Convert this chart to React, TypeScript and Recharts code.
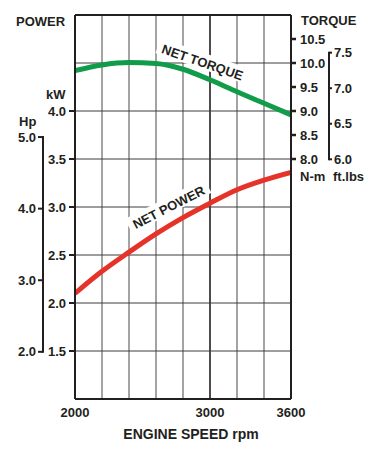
import React from 'react';
import { LineChart, Line, XAxis, YAxis, ReferenceLine } from 'recharts';

// ---- data ----
const rpm = [2000, 2200, 2400, 2600, 2800, 3000, 3200, 3400, 3600];
const netTorqueNm = [9.84, 9.96, 10.01, 9.99, 9.87, 9.65, 9.4, 9.16, 8.92];
const netPowerKw = [2.1, 2.33, 2.53, 2.72, 2.89, 3.04, 3.18, 3.28, 3.36];

const rpmTicks = [2000, 3000, 3600];
const rpmGrid = [2200, 2400, 2600, 2800, 3200, 3400];
const rpmMajor = [3000];
const kwTicks = [1.5, 2.0, 2.5, 3.0, 3.5, 4.0];
const kwGrid = [1.5, 2.0, 2.5, 3.0, 3.5, 4.0, 4.5];
const hpTicks = [2.0, 3.0, 4.0, 5.0];
const nmTicks = [8.0, 8.5, 9.0, 9.5, 10.0, 10.5];
const ftlbTicks = [6.0, 6.5, 7.0, 7.5];

const KW_DOMAIN = [1, 5];
const HP_DOMAIN = [1.341, 6.705];
const NM_DOMAIN = [3, 11];
const FTLB_DOMAIN = [2.627, 8.03];

const rows = rpm.map((r, i) => ({ rpm: r, torque: netTorqueNm[i], power: netPowerKw[i] }));

// ---- style ----
const W = 380;
const H = 470;
const TOP = 15;
const BOTTOM_H = 71;
const PLOT_H = H - TOP - BOTTOM_H;
const INK = '#231f20';
const GREEN = '#109c48';
const RED = '#e6332a';
const FONT = "'Liberation Sans', Arial, Helvetica, sans-serif";
const FS = 13;

const KW = 'a_kw';
const HP = 'b_hp';
const NM = 'a_nm';
const FTLB = 'b_ftlb';

function makeBracketTick(side: 'left' | 'right', ticks: number[], domain: number[], tickSize: number, tickMargin: number) {
  const top = Math.max(...ticks);
  const bottom = Math.min(...ticks);
  const pxPerUnit = PLOT_H / (domain[1] - domain[0]);
  return (props: any) => {
    const { x, y, payload } = props;
    const v = Number(payload.value);
    const axisX = side === 'left' ? x + tickSize + tickMargin : x - tickSize - tickMargin;
    return (
      <g>
        {Math.abs(v - bottom) < 1e-9 && (
          <line x1={axisX} x2={axisX} y1={y} y2={y - (top - bottom) * pxPerUnit} stroke={INK} strokeWidth={2} strokeLinecap="square" />
        )}
        <text x={x} y={y} dy="0.355em" textAnchor={side === 'left' ? 'end' : 'start'} fill={INK} fontSize={FS} fontWeight={700} fontFamily={FONT}>
          {v.toFixed(1)}
        </text>
      </g>
    );
  };
}

const HpTick = makeBracketTick('left', hpTicks, HP_DOMAIN, 5, 2);
const FtlbTick = makeBracketTick('right', ftlbTicks, FTLB_DOMAIN, 3, 2);

const tickStyle = { fill: INK, fontSize: FS, fontWeight: 700, fontFamily: FONT };

function Lbl({ text, left, top, size = FS, center = false }: any) {
  return (
    <div
      style={{
        position: 'absolute',
        left,
        top,
        fontSize: size,
        lineHeight: `${size}px`,
        fontWeight: 700,
        fontFamily: FONT,
        color: INK,
        whiteSpace: 'nowrap',
        transform: center ? 'translateX(-50%)' : undefined,
      }}
    >
      {text}
    </div>
  );
}

function CurveLbl({ text, cx, cy, angle }: any) {
  return (
    <div
      style={{
        position: 'absolute',
        left: cx,
        top: cy,
        transform: `translate(-50%, -50%) rotate(${angle}deg)`,
        background: '#fff',
        padding: '3px 5px 0px',
        fontSize: FS,
        lineHeight: `${FS}px`,
        fontWeight: 700,
        fontFamily: FONT,
        color: INK,
        whiteSpace: 'nowrap',
      }}
    >
      {text}
    </div>
  );
}

export default function App() {
  return (
    <div style={{ position: 'absolute', left: 0, top: 0, width: W, height: H, background: '#fff' }}>
      <LineChart width={W} height={H} data={rows} margin={{ top: TOP, right: 0, bottom: 0, left: 0 }}>
        <XAxis
          dataKey="rpm"
          type="number"
          domain={[2000, 3600]}
          ticks={rpmTicks}
          allowDataOverflow
          height={BOTTOM_H}
          tickLine={false}
          tickSize={0}
          tickMargin={9}
          axisLine={{ stroke: INK, strokeWidth: 2 }}
          tick={tickStyle}
        />
        <YAxis
          yAxisId={HP}
          orientation="left"
          type="number"
          domain={HP_DOMAIN}
          ticks={hpTicks}
          allowDataOverflow
          width={43}
          tickSize={5}
          tickMargin={2}
          axisLine={false}
          tickLine={{ stroke: INK, strokeWidth: 2 }}
          tick={HpTick}
        />
        <YAxis
          yAxisId={KW}
          orientation="left"
          type="number"
          domain={KW_DOMAIN}
          ticks={kwTicks}
          allowDataOverflow
          width={32}
          tickSize={6}
          tickMargin={3}
          tickFormatter={(v: number) => v.toFixed(1)}
          axisLine={{ stroke: INK, strokeWidth: 2 }}
          tickLine={{ stroke: INK, strokeWidth: 2 }}
          tick={tickStyle}
        />
        <YAxis
          yAxisId={FTLB}
          orientation="right"
          type="number"
          domain={FTLB_DOMAIN}
          ticks={ftlbTicks}
          allowDataOverflow
          width={51}
          tickSize={3}
          tickMargin={2}
          axisLine={false}
          tickLine={{ stroke: INK, strokeWidth: 2 }}
          tick={FtlbTick}
        />
        <YAxis
          yAxisId={NM}
          orientation="right"
          type="number"
          domain={NM_DOMAIN}
          ticks={nmTicks}
          allowDataOverflow
          width={38}
          tickSize={5}
          tickMargin={4}
          tickFormatter={(v: number) => v.toFixed(1)}
          axisLine={{ stroke: INK, strokeWidth: 2 }}
          tickLine={{ stroke: INK, strokeWidth: 2.5 }}
          tick={tickStyle}
        />
        {rpmGrid.map((v) => (
          <ReferenceLine key={'vx' + v} x={v} yAxisId={KW} stroke="#7d7d7d" strokeWidth={1.4} />
        ))}
        {rpmMajor.map((v) => (
          <ReferenceLine key={'vm' + v} x={v} yAxisId={KW} stroke={INK} strokeWidth={1.6} />
        ))}
        {kwGrid.map((v) => (
          <ReferenceLine key={'hy' + v} y={v} yAxisId={KW} stroke="#3c3c3c" strokeWidth={1} />
        ))}
        <ReferenceLine y={KW_DOMAIN[1]} yAxisId={KW} stroke={INK} strokeWidth={2} />
        <Line
          yAxisId={NM}
          dataKey="torque"
          type="monotone"
          stroke={GREEN}
          strokeWidth={5}
          dot={false}
          activeDot={false}
          isAnimationActive={false}
        />
        <Line
          yAxisId={KW}
          dataKey="power"
          type="monotone"
          stroke={RED}
          strokeWidth={5}
          dot={false}
          activeDot={false}
          isAnimationActive={false}
        />
      </LineChart>
      <Lbl text="POWER" left={16} top={15} />
      <Lbl text="TORQUE" left={301} top={14} />
      <Lbl text="kW" left={46} top={88} />
      <Lbl text="Hp" left={19} top={115} />
      <Lbl text="N-m" left={300} top={170} />
      <Lbl text="ft.lbs" left={333} top={170} />
      <Lbl text="ENGINE SPEED rpm" left={191} top={427} size={14} center />
      <CurveLbl text="NET TORQUE" cx={203} cy={61} angle={19} />
      <CurveLbl text="NET POWER" cx={168} cy={206} angle={-27} />
    </div>
  );
}
